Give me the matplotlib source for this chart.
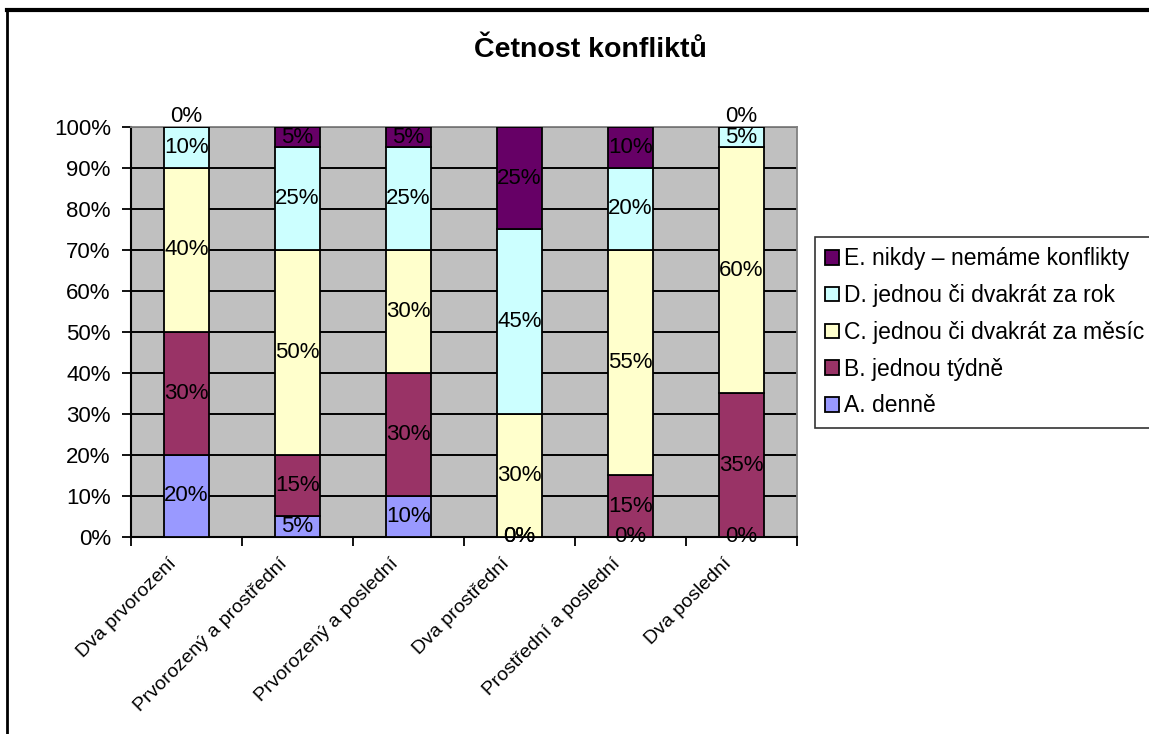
import numpy as np
import matplotlib
matplotlib.use('Agg')
import matplotlib.pyplot as plt
from matplotlib.transforms import ScaledTranslation

plt.rcParams['font.family'] = ['Liberation Sans', 'DejaVu Sans']

categories = ['Dva prvorození', 'Prvorozený a prostřední', 'Prvorozený a poslední',
              'Dva prostřední', 'Prostřední a poslední', 'Dva poslední']
series = ['A. denně', 'B. jednou týdně', 'C. jednou či dvakrát za měsíc',
          'D. jednou či dvakrát za rok', 'E. nikdy – nemáme konflikty']
a_denne = [20, 5, 10, 0, 0, 0]
b_tydne = [30, 15, 30, 0, 15, 35]
c_mesic = [40, 50, 30, 30, 55, 60]
d_rok = [10, 25, 25, 45, 20, 5]
e_nikdy = [0, 5, 5, 25, 10, 0]
colors = ['#9999FF', '#993366', '#FFFFCC', '#CCFFFF', '#660066']

values = [a_denne, b_tydne, c_mesic, d_rok, e_nikdy]

fig = plt.figure(figsize=(11.49, 7.34), dpi=100)
ax = fig.add_axes([0.114, 0.2684, 0.5797, 0.5586])
ax.set_facecolor('#C0C0C0')

x = np.arange(len(categories))
bottom = np.zeros(len(categories))
for name, vals, col in zip(series, values, colors):
    ax.bar(x, vals, 0.41, bottom=bottom, color=col, edgecolor='black',
           linewidth=1.3, label=name, zorder=3)
    for xi, v, bt in zip(x, vals, bottom):
        if v == 0 and bt >= 100:
            ax.text(xi, 100, '0%', ha='center', va='bottom', fontsize=16, zorder=4)
        else:
            ax.text(xi, bt + v / 2, f'{v}%', ha='center', va='center', fontsize=16, zorder=4)
    bottom = bottom + np.array(vals)

ax.set_xlim(-0.5, len(categories) - 0.5)
ax.set_ylim(0, 100)
ax.set_yticks(np.arange(0, 101, 10))
ax.set_yticklabels([f'{t}%' for t in range(0, 101, 10)], fontsize=16)
ax.yaxis.grid(True, color='black', linewidth=1.4, zorder=1)
ax.set_axisbelow(True)
ax.tick_params(axis='y', length=6.5, width=1.3, direction='out', pad=8)

ax.set_xticks(x)
ax.set_xticklabels(categories, rotation=45, ha='right', rotation_mode='anchor', fontsize=14)
ax.tick_params(axis='x', length=0, pad=13)
shift = ScaledTranslation(-19 / 100, 0, fig.dpi_scale_trans)
for lbl in ax.get_xticklabels():
    lbl.set_transform(lbl.get_transform() + shift)
ax.set_xticks(np.arange(-0.5, len(categories)), minor=True)
ax.tick_params(axis='x', which='minor', length=6.5, width=1.3, direction='out')

for s in ['top', 'right']:
    ax.spines[s].set_color('#808080')
    ax.spines[s].set_linewidth(1.3)
for s in ['left', 'bottom']:
    ax.spines[s].set_color('black')
    ax.spines[s].set_linewidth(1.5)

fig.text(0.514, 0.932, 'Četnost konfliktů', ha='center', va='center',
         fontsize=20.5, fontweight='bold')

handles, labels = ax.get_legend_handles_labels()
leg = fig.legend(handles[::-1], labels[::-1], loc='upper left',
                 bbox_to_anchor=(0.709, 0.677), fontsize=16.5, frameon=True,
                 fancybox=False, edgecolor='black', handlelength=0.6,
                 handleheight=0.6, handletextpad=0.25, labelspacing=0.6,
                 borderpad=0.45, borderaxespad=0)
leg.get_frame().set_linewidth(1.2)

# outer chart border (top and left visible)
fig.add_artist(plt.Line2D([0.006, 1.0], [0.987, 0.987], color='black', linewidth=3,
                          transform=fig.transFigure))
fig.add_artist(plt.Line2D([0.0065, 0.0065], [0.0, 0.987], color='black', linewidth=2,
                          transform=fig.transFigure))

fig.savefig('out.png', dpi=100)
